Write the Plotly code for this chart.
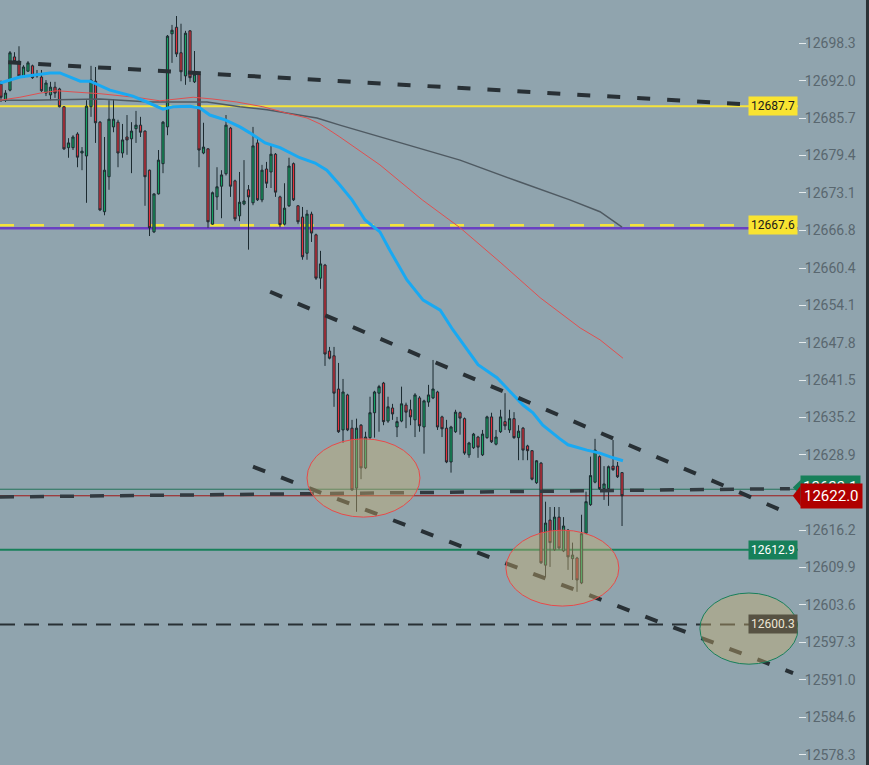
import plotly.graph_objects as go

# ---------------- data ----------------
opens = [12691.4,12688.7,12690.4,12696.0,12695.3,12692.6,12693.6,12694.5,12692.8,12692.6,
         12689.9,12689.6,12690.9,12690.6,12687.6,12680.7,12680.7,12683.0,12679.8,12679.3,
         12687.6,12691.9,12685.0,12669.9,12675.8,12684.2,12685.0,12679.8,12682.5,12682.2,
         12683.9,12684.5,12683.5,12676.9,12666.5,12672.9,12678.0,12684.2,12699.9,12701.0,
         12696.7,12692.8,12700.4,12691.8,12693.1,12679.8,12680.5,12667.8,12672.4,12674.2,
         12676.3,12684.0,12675.1,12669.2,12671.2,12673.6,12671.4,12681.5,12671.9,12677.1,
         12676.6,12679.6,12672.4,12667.8,12670.9,12678.0,12670.9,12669.0,12662.9,12669.5,
         12666.0,12658.7,12660.9,12646.4,12645.6,12640.0,12633.1,12639.0,12633.4,12623.3,
         12633.9,12626.7,12631.8,12636.0,12639.3,12641.0,12634.6,12636.8,12633.6,12634.6,
         12637.3,12636.5,12634.8,12638.5,12633.6,12637.8,12638.5,12639.5,12635.3,12633.4,
         12627.7,12632.8,12636.0,12635.0,12628.9,12630.1,12631.9,12628.9,12631.8,12635.3,
         12630.7,12632.8,12634.5,12633.1,12635.0,12631.8,12633.4,12630.4,12629.6,12624.2,
         12627.5,12610.3,12617.9,12612.9,12618.4,12612.7,12616.2,12611.4,12611.5,12607.3,
         12615.7,12620.5,12624.3,12628.6,12623.2,12623.2,12627.0,12627.0,12625.9]
highs = [12692.0,12690.4,12697.0,12696.8,12697.8,12694.6,12695.3,12694.7,12693.8,12693.8,
         12692.1,12691.8,12691.8,12690.8,12687.7,12682.3,12682.8,12683.3,12680.8,12688.7,
         12694.5,12694.3,12685.2,12682.5,12688.7,12688.9,12685.4,12684.7,12686.2,12685.0,
         12686.9,12685.9,12683.6,12677.0,12673.0,12680.3,12685.2,12699.7,12701.4,12702.9,
         12701.6,12700.4,12700.5,12697.0,12693.3,12684.9,12680.6,12673.3,12677.4,12676.9,
         12686.2,12684.2,12675.3,12676.6,12678.6,12674.4,12684.2,12682.2,12677.8,12678.3,
         12681.2,12679.8,12672.6,12674.7,12679.0,12678.2,12671.0,12670.7,12670.2,12669.9,
         12666.2,12663.3,12661.1,12647.1,12647.1,12644.4,12641.7,12639.2,12634.8,12635.0,
         12634.1,12632.8,12638.7,12639.7,12640.7,12641.2,12638.7,12637.5,12635.3,12640.4,
         12637.7,12638.2,12639.3,12638.8,12638.2,12640.7,12644.9,12639.7,12635.5,12634.8,
         12633.8,12636.5,12636.2,12635.2,12631.1,12632.6,12632.1,12633.1,12635.5,12636.0,
         12633.1,12636.5,12639.3,12636.5,12636.1,12633.9,12633.6,12630.6,12629.7,12628.0,
         12627.7,12621.0,12620.1,12620.1,12620.1,12618.4,12616.4,12614.1,12611.7,12618.8,
         12622.7,12628.6,12631.6,12628.8,12627.0,12627.1,12631.4,12627.7,12626.0]
lows = [12688.4,12688.4,12690.2,12695.0,12692.6,12692.5,12693.5,12692.3,12692.5,12690.1,
        12689.4,12688.7,12689.1,12687.5,12680.3,12679.0,12680.3,12677.4,12676.9,12671.4,
        12685.9,12681.5,12670.0,12669.3,12673.6,12683.3,12677.4,12679.0,12679.5,12676.4,
        12681.5,12682.5,12670.9,12665.8,12666.3,12672.8,12676.4,12682.8,12695.0,12696.0,
        12691.9,12691.3,12691.8,12691.6,12677.4,12679.6,12667.2,12667.7,12670.2,12668.8,
        12676.0,12672.4,12668.3,12668.3,12671.0,12663.5,12671.0,12671.7,12671.5,12673.9,
        12673.9,12672.4,12667.3,12667.6,12670.7,12671.7,12667.8,12661.8,12661.8,12664.8,
        12658.4,12656.9,12643.9,12645.0,12637.0,12632.6,12630.9,12632.9,12622.8,12619.3,
        12624.8,12626.5,12631.6,12631.8,12632.8,12633.9,12634.3,12634.8,12631.9,12634.4,
        12633.4,12633.9,12631.9,12632.8,12629.1,12637.0,12638.3,12633.1,12631.9,12627.5,
        12625.9,12632.6,12632.3,12628.9,12628.4,12629.9,12628.4,12628.7,12631.6,12630.9,
        12630.5,12632.6,12633.1,12632.6,12631.6,12628.0,12628.0,12628.0,12624.6,12624.0,
        12610.5,12608.3,12610.0,12612.7,12612.9,12612.5,12609.5,12607.8,12605.8,12607.1,
        12615.5,12620.3,12624.1,12623.0,12621.3,12620.3,12626.2,12625.0,12616.9]
closes = [12689.2,12689.9,12696.7,12695.2,12692.8,12694.3,12695.0,12692.5,12693.1,12690.3,
          12691.6,12690.9,12689.9,12687.6,12680.5,12681.5,12682.5,12679.1,12680.1,12687.7,
          12692.1,12684.9,12670.2,12676.9,12685.5,12685.5,12679.8,12682.0,12682.0,12683.5,
          12684.5,12683.3,12675.8,12667.2,12672.9,12678.6,12685.0,12699.5,12700.5,12696.5,
          12693.5,12700.0,12692.5,12693.1,12680.3,12680.8,12668.2,12673.1,12674.1,12676.1,
          12684.5,12674.2,12668.7,12671.5,12671.7,12672.4,12681.0,12671.9,12676.9,12674.7,
          12679.6,12673.2,12667.7,12670.5,12677.6,12671.9,12668.2,12662.3,12669.5,12666.3,
          12658.7,12661.1,12645.9,12645.2,12639.3,12632.8,12639.5,12633.1,12623.0,12633.4,
          12626.7,12631.9,12636.0,12639.5,12640.4,12634.5,12637.0,12635.8,12634.5,12637.5,
          12636.1,12635.3,12639.0,12633.8,12638.0,12639.0,12640.0,12633.6,12633.3,12627.7,
          12633.6,12636.1,12635.1,12629.2,12630.9,12632.4,12630.2,12632.4,12635.3,12631.1,
          12631.9,12635.3,12633.8,12635.0,12631.8,12632.9,12629.7,12629.6,12624.8,12627.9,
          12610.7,12617.4,12614.1,12618.4,12613.2,12616.9,12611.7,12612.0,12607.8,12615.6,
          12621.0,12625.4,12629.7,12623.2,12624.0,12626.9,12626.4,12625.2,12622.0]
bar_index = list(range(1, len(closes) + 1))

# moving averages: (bar position, price)
ma_fast_x = [0.8,5.2,11.9,14.1,18.6,20.8,25.2,30.3,33.4,35.7,37.0,39.2,43.0,45.2,47.4,50.8,54.1,56.3,
             59.7,63.0,65.2,67.4,70.8,73.4,76.3,79.0,81.9,85.2,87.4,91.2,94.8,98.6,101.4,104.6,107.0,
             111.2,114.8,117.0,119.2,121.4,125.2,127.0,131.2,134.1,137.0,139.2]
ma_fast_y = [12691.6,12692.6,12693.3,12693.3,12691.9,12691.9,12690.4,12689.4,12688.4,12687.6,12687.2,
             12687.6,12687.7,12687.4,12686.2,12685.4,12684.2,12683.2,12681.5,12680.7,12679.8,12679.0,
             12678.1,12676.9,12674.4,12671.9,12668.5,12666.5,12663.4,12658.4,12655.0,12653.3,12650.0,
             12646.6,12644.1,12641.9,12639.0,12637.3,12636.0,12633.9,12631.6,12630.6,12629.7,12629.2,
             12628.4,12627.9]
ma_mid_x = [0.8,5.2,9.7,13.4,17.0,23.0,31.9,36.3,43.7,48.1,53.4,59.2,64.6,69.0,71.9,76.3,85.2,94.6,
            103.0,111.9,120.8,129.7,134.1,139.2]
ma_mid_y = [12688.7,12689.2,12689.9,12690.3,12690.1,12689.8,12689.1,12688.6,12689.2,12688.9,12688.4,
            12687.6,12686.5,12685.7,12684.7,12682.5,12677.8,12671.9,12667.2,12661.4,12655.4,12650.3,
            12648.3,12645.2]
ma_slow_x = [0.8,7.4,23.0,34.1,46.8,54.1,60.1,65.2,71.2,76.3,89.7,103.0,116.3,127.4,134.1,139.0]
ma_slow_y = [12688.7,12688.7,12688.9,12688.4,12688.4,12687.6,12687.1,12686.5,12685.7,12684.5,12681.5,
             12678.6,12674.9,12671.9,12669.9,12667.3]

# price tick labels on the right axis
tick_values = [12578.3,12584.6,12591.0,12597.3,12603.6,12609.9,12616.2,12622.5,12628.9,12635.2,
               12641.5,12647.8,12654.1,12660.4,12666.8,12673.1,12679.4,12685.7,12692.0,12698.3]

# horizontal levels
level_yellow = 12687.7
level_yellow_dash = 12667.6
level_purple = 12667.1
level_green_thin = 12623.1
level_last = 12622.0
level_green = 12612.9
level_dark_dash = 12600.3

# trend lines: ((x0, y0), (x1, y1)) in bar / price units
trend_top = ((2.6, 12695.1), (176.3, 12687.6))
trend_chan_hi = ((60.8, 12656.4), (175.2, 12619.3))
trend_chan_lo = ((57.0, 12626.9), (177.0, 12592.1))
trend_flat = ((0.78, 12621.8), (176.3, 12623.2))

# ellipses: (x0, x1, y0, y1, border colour)
ellipses = [(69.0, 94.1, 12618.4, 12631.6, "#e84a4a"),
            (113.2, 138.3, 12603.4, 12616.2, "#e84a4a"),
            (156.3, 178.1, 12593.6, 12605.6, "#17805a")]

X_RANGE = [0.78, 178.1]
Y_RANGE = [12576.6, 12705.6]

# ---------------- figure ----------------
BG = "#90a4ae"
fig = go.Figure()

fig.add_trace(go.Candlestick(
    x=bar_index, open=opens, high=highs, low=lows, close=closes,
    increasing=dict(line=dict(color="#1c2a30", width=1), fillcolor="#14a062"),
    decreasing=dict(line=dict(color="#1c2a30", width=1), fillcolor="#e3303c"),
    whiskerwidth=0, showlegend=False, hoverinfo="skip"))

fig.add_trace(go.Scatter(x=ma_slow_x, y=ma_slow_y, mode="lines",
                         line=dict(color="#4f5a62", width=1.5), showlegend=False, hoverinfo="skip"))
fig.add_trace(go.Scatter(x=ma_mid_x, y=ma_mid_y, mode="lines",
                         line=dict(color="#e05050", width=1), showlegend=False, hoverinfo="skip"))
fig.add_trace(go.Scatter(x=ma_fast_x, y=ma_fast_y, mode="lines",
                         line=dict(color="#19a9f2", width=3), showlegend=False, hoverinfo="skip"))

shapes = []
def hline(y, color, width, dash="solid", layer="below"):
    shapes.append(dict(type="line", xref="paper", x0=0, x1=1, yref="y", y0=y, y1=y,
                       line=dict(color=color, width=width, dash=dash), layer=layer))

def seg(t, color, width, dash):
    (xa, ya), (xb, yb) = t
    shapes.append(dict(type="line", xref="x", yref="y", x0=xa, y0=ya, x1=xb, y1=yb,
                       line=dict(color=color, width=width, dash=dash), layer="above"))

hline(level_yellow, "#f6e33a", 2)
hline(level_purple, "#6a3fc2", 2.5)
hline(level_yellow_dash, "#f6e33a", 2.5, "14px,16px")
hline(level_green_thin, "#24735a", 1)
hline(level_last, "#a01818", 1)
hline(level_green, "#17805a", 2)
hline(level_dark_dash, "#283035", 2, "15px,9px", layer="above")

seg(trend_top, "#283035", 4, "13px,17px")
seg(trend_chan_hi, "#283035", 4, "13px,17px")
seg(trend_chan_lo, "#283035", 4, "13px,17px")
seg(trend_flat, "#323a40", 3.5, "14px,16px")

for (xa, xb, ya, yb, col) in ellipses:
    shapes.append(dict(type="circle", xref="x", yref="y", x0=xa, x1=xb, y0=ya, y1=yb,
                       fillcolor="rgba(200,175,110,0.42)", line=dict(color=col, width=1),
                       layer="above"))

# dark bar at the far right edge
shapes.append(dict(type="rect", xref="paper", yref="paper", x0=1.0852, x1=1.095, y0=0, y1=1,
                   fillcolor="#2b3136", line=dict(width=0), layer="above"))
# arrow notches of the right-edge price labels
shapes.append(dict(type="path", xref="paper", yref="y",
                   path=f"M 0.9935,{level_green_thin+0.3} L 1.0035,{level_green_thin + 1.6} L 1.0035,{level_green_thin - 1.0} Z",
                   fillcolor="#17805a", line=dict(width=0), layer="above"))
shapes.append(dict(type="path", xref="paper", yref="y",
                   path=f"M 0.9935,{level_last} L 1.0035,{level_last + 1.75} L 1.0035,{level_last - 1.75} Z",
                   fillcolor="#b00000", line=dict(width=0), layer="above"))

annotations = []
def box(y, text, bg, fg, x=1.0, xanchor="right", size=12, pad=1):
    annotations.append(dict(xref="paper", yref="y", x=x, y=y, xanchor=xanchor, yanchor="middle",
                            text=text, showarrow=False, bgcolor=bg, borderpad=pad,
                            font=dict(family="Roboto", size=size, color=fg)))

box(level_yellow, "12687.7", "#f9e431", "#1a1a1a", pad=2)
box(level_yellow_dash, "12667.6", "#f9e431", "#1a1a1a", pad=2)
box(level_green, "12612.9", "#17805a", "#ffffff", pad=2)
box(level_dark_dash, "12600.3", "#575243", "#eee6d4", pad=2)
box(level_green_thin + 0.3, "12623.1", "#17805a", "#ffffff", x=1.003, xanchor="left", size=15, pad=2)
box(level_last, "12622.0", "#b00000", "#ffffff", x=1.003, xanchor="left", size=15, pad=3)

fig.update_layout(
    width=869, height=765,
    margin=dict(l=0, r=71, t=0, b=0, pad=0),
    paper_bgcolor=BG, plot_bgcolor=BG,
    showlegend=False,
    shapes=shapes, annotations=annotations,
    xaxis=dict(range=X_RANGE, visible=False, rangeslider=dict(visible=False), fixedrange=True),
    yaxis=dict(range=Y_RANGE, side="right", showgrid=False, zeroline=False, showline=False,
               tickmode="array", tickvals=tick_values, ticktext=[f"{v:.1f}" for v in tick_values],
               ticks="outside", ticklen=7, tickwidth=1, tickcolor="#e4eaec",
               ticklabelstandoff=-4,
               tickfont=dict(family="Roboto", size=14, color="#59676f")),
)

fig.write_html("out.html", config={"displayModeBar": False})

# remove the browser's default page margin so the chart fills the window
with open("out.html", "r", encoding="utf-8") as fh:
    html = fh.read()
html = html.replace("<head>", "<head><style>html,body{margin:0;padding:0;overflow:hidden;background:#90a4ae;}</style>", 1)
with open("out.html", "w", encoding="utf-8") as fh:
    fh.write(html)
